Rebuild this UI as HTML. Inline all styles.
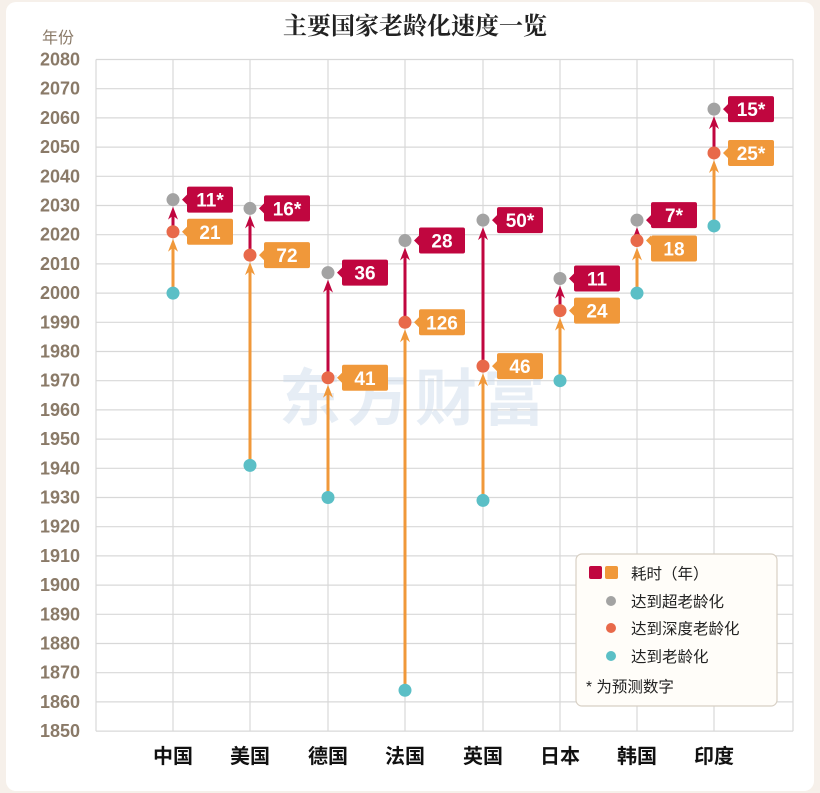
<!DOCTYPE html>
<html><head><meta charset="utf-8"><style>
body{margin:0;background:#fff}
svg{display:block}
text{font-family:"Liberation Sans","Noto Sans CJK SC",sans-serif}
</style></head><body>
<svg width="820" height="793" viewBox="0 0 820 793" xmlns="http://www.w3.org/2000/svg">
<rect x="0" y="0" width="820" height="793" fill="#f6f0ea"/>
<rect x="6" y="2" width="808" height="789" rx="10" fill="#fff"/>
<text x="415" y="34" text-anchor="middle" font-size="24" font-weight="bold" fill="#222" style='font-family:"Noto Serif CJK SC",serif'>主要国家老龄化速度一览</text>
<text x="58" y="43" text-anchor="middle" font-size="16" fill="#8a7a68">年份</text>
<g id="grid" stroke="#d8d8d8" stroke-width="1.2"></g>
<g id="ylab" font-size="18" font-weight="bold" fill="#8a7a68" text-anchor="end"></g>
<text x="415" y="420" text-anchor="middle" font-size="62" font-weight="bold" fill="#c9d8ea" opacity="0.45" letter-spacing="6">东方财富</text>
<g id="data"></g>
<g id="xlab" font-size="20" font-weight="bold" fill="#111" text-anchor="middle"></g>
<g>
<rect x="576" y="554" width="201" height="152" rx="6" fill="#fffdf9" stroke="#d8d0c4" stroke-width="1.2"/>
<rect x="589" y="566" width="13" height="13" rx="2" fill="#c0063f"/>
<rect x="605" y="566" width="13" height="13" rx="2" fill="#f0983a"/>
<text x="631" y="579" font-size="15.5" fill="#222">耗时（年）</text>
<circle cx="611" cy="601" r="5" fill="#a3a3a3"/>
<text x="631" y="607" font-size="15.5" fill="#222">达到超老龄化</text>
<circle cx="611" cy="628" r="5" fill="#e8694a"/>
<text x="631" y="634" font-size="15.5" fill="#222">达到深度老龄化</text>
<circle cx="611" cy="656" r="5" fill="#5bbfc6"/>
<text x="631" y="662" font-size="15.5" fill="#222">达到老龄化</text>
<text x="586" y="692" font-size="15.5" fill="#222">* 为预测数字</text>
</g>
</svg>
<script>
const ns="http://www.w3.org/2000/svg";
function el(p,t,a,txt){const e=document.createElementNS(ns,t);for(const k in a)e.setAttribute(k,a[k]);if(txt!==undefined)e.textContent=txt;document.getElementById(p)?document.getElementById(p).appendChild(e):p.appendChild(e);return e;}
const Y=v=>59.5+(2080-v)*2.92;
const xs=[173,250,328,405,483,560,637,714];
for(let v=1850;v<=2080;v+=10){el("grid","line",{x1:96,x2:793,y1:Y(v),y2:Y(v)});el("ylab","text",{x:80,y:Y(v)+6},v);}
[96,...xs,793].forEach(x=>el("grid","line",{x1:x,x2:x,y1:Y(2080),y2:Y(1850)}));
const names=["中国","美国","德国","法国","英国","日本","韩国","印度"];
names.forEach((n,i)=>el("xlab","text",{x:xs[i],y:763},n));
const D=[[2000,2021,2032,"21","11*",0,0],[1941,2013,2029,"72","16*",0,0],[1930,1971,2007,"41","36",0,0],[1864,1990,2018,"126","28",0,0],[1929,1975,2025,"46","50*",0,0],[1970,1994,2005,"24","11",0,0],[2000,2018,2025,"18","7*",8,-5],[2023,2048,2063,"25*","15*",0,0]];
const R="#c0063f",O="#f0983a";
function arrow(x,y0,y1,c){
  const tip=y1+7;
  el("data","line",{x1:x,x2:x,y1:y0,y2:tip+4,stroke:c,"stroke-width":3});
  el("data","path",{d:`M${x} ${tip} L${x-5} ${tip+13} L${x} ${tip+9} L${x+5} ${tip+13}Z`,fill:c});
}
function label(x,y,t,c,dy){
  const yb=y+dy;
  el("data","path",{d:`M${x+9} ${y} L${x+14} ${y-5} L${x+14} ${yb-11} Q${x+14} ${yb-13} ${x+16} ${yb-13} L${x+58} ${yb-13} Q${x+60} ${yb-13} ${x+60} ${yb-11} L${x+60} ${yb+11} Q${x+60} ${yb+13} ${x+58} ${yb+13} L${x+16} ${yb+13} Q${x+14} ${yb+13} ${x+14} ${yb+11} L${x+14} ${y+5}Z`,fill:c});
  el("data","text",{x:x+37,y:yb+7,"text-anchor":"middle","font-size":19,"font-weight":"bold",fill:"#fff"},t);
}
D.forEach((d,i)=>{const x=xs[i];const a=Y(d[0]),b=Y(d[1]),c=Y(d[2]);
  arrow(x,a,b,O);arrow(x,b,c,R);
  el("data","circle",{cx:x,cy:a,r:6.5,fill:"#5bbfc6"});
  el("data","circle",{cx:x,cy:b,r:6.5,fill:"#e8694a"});
  el("data","circle",{cx:x,cy:c,r:6.5,fill:"#a3a3a3"});
  label(x,b,d[3],O,d[5]);label(x,c,d[4],R,d[6]);
});
</script>
</body></html>
